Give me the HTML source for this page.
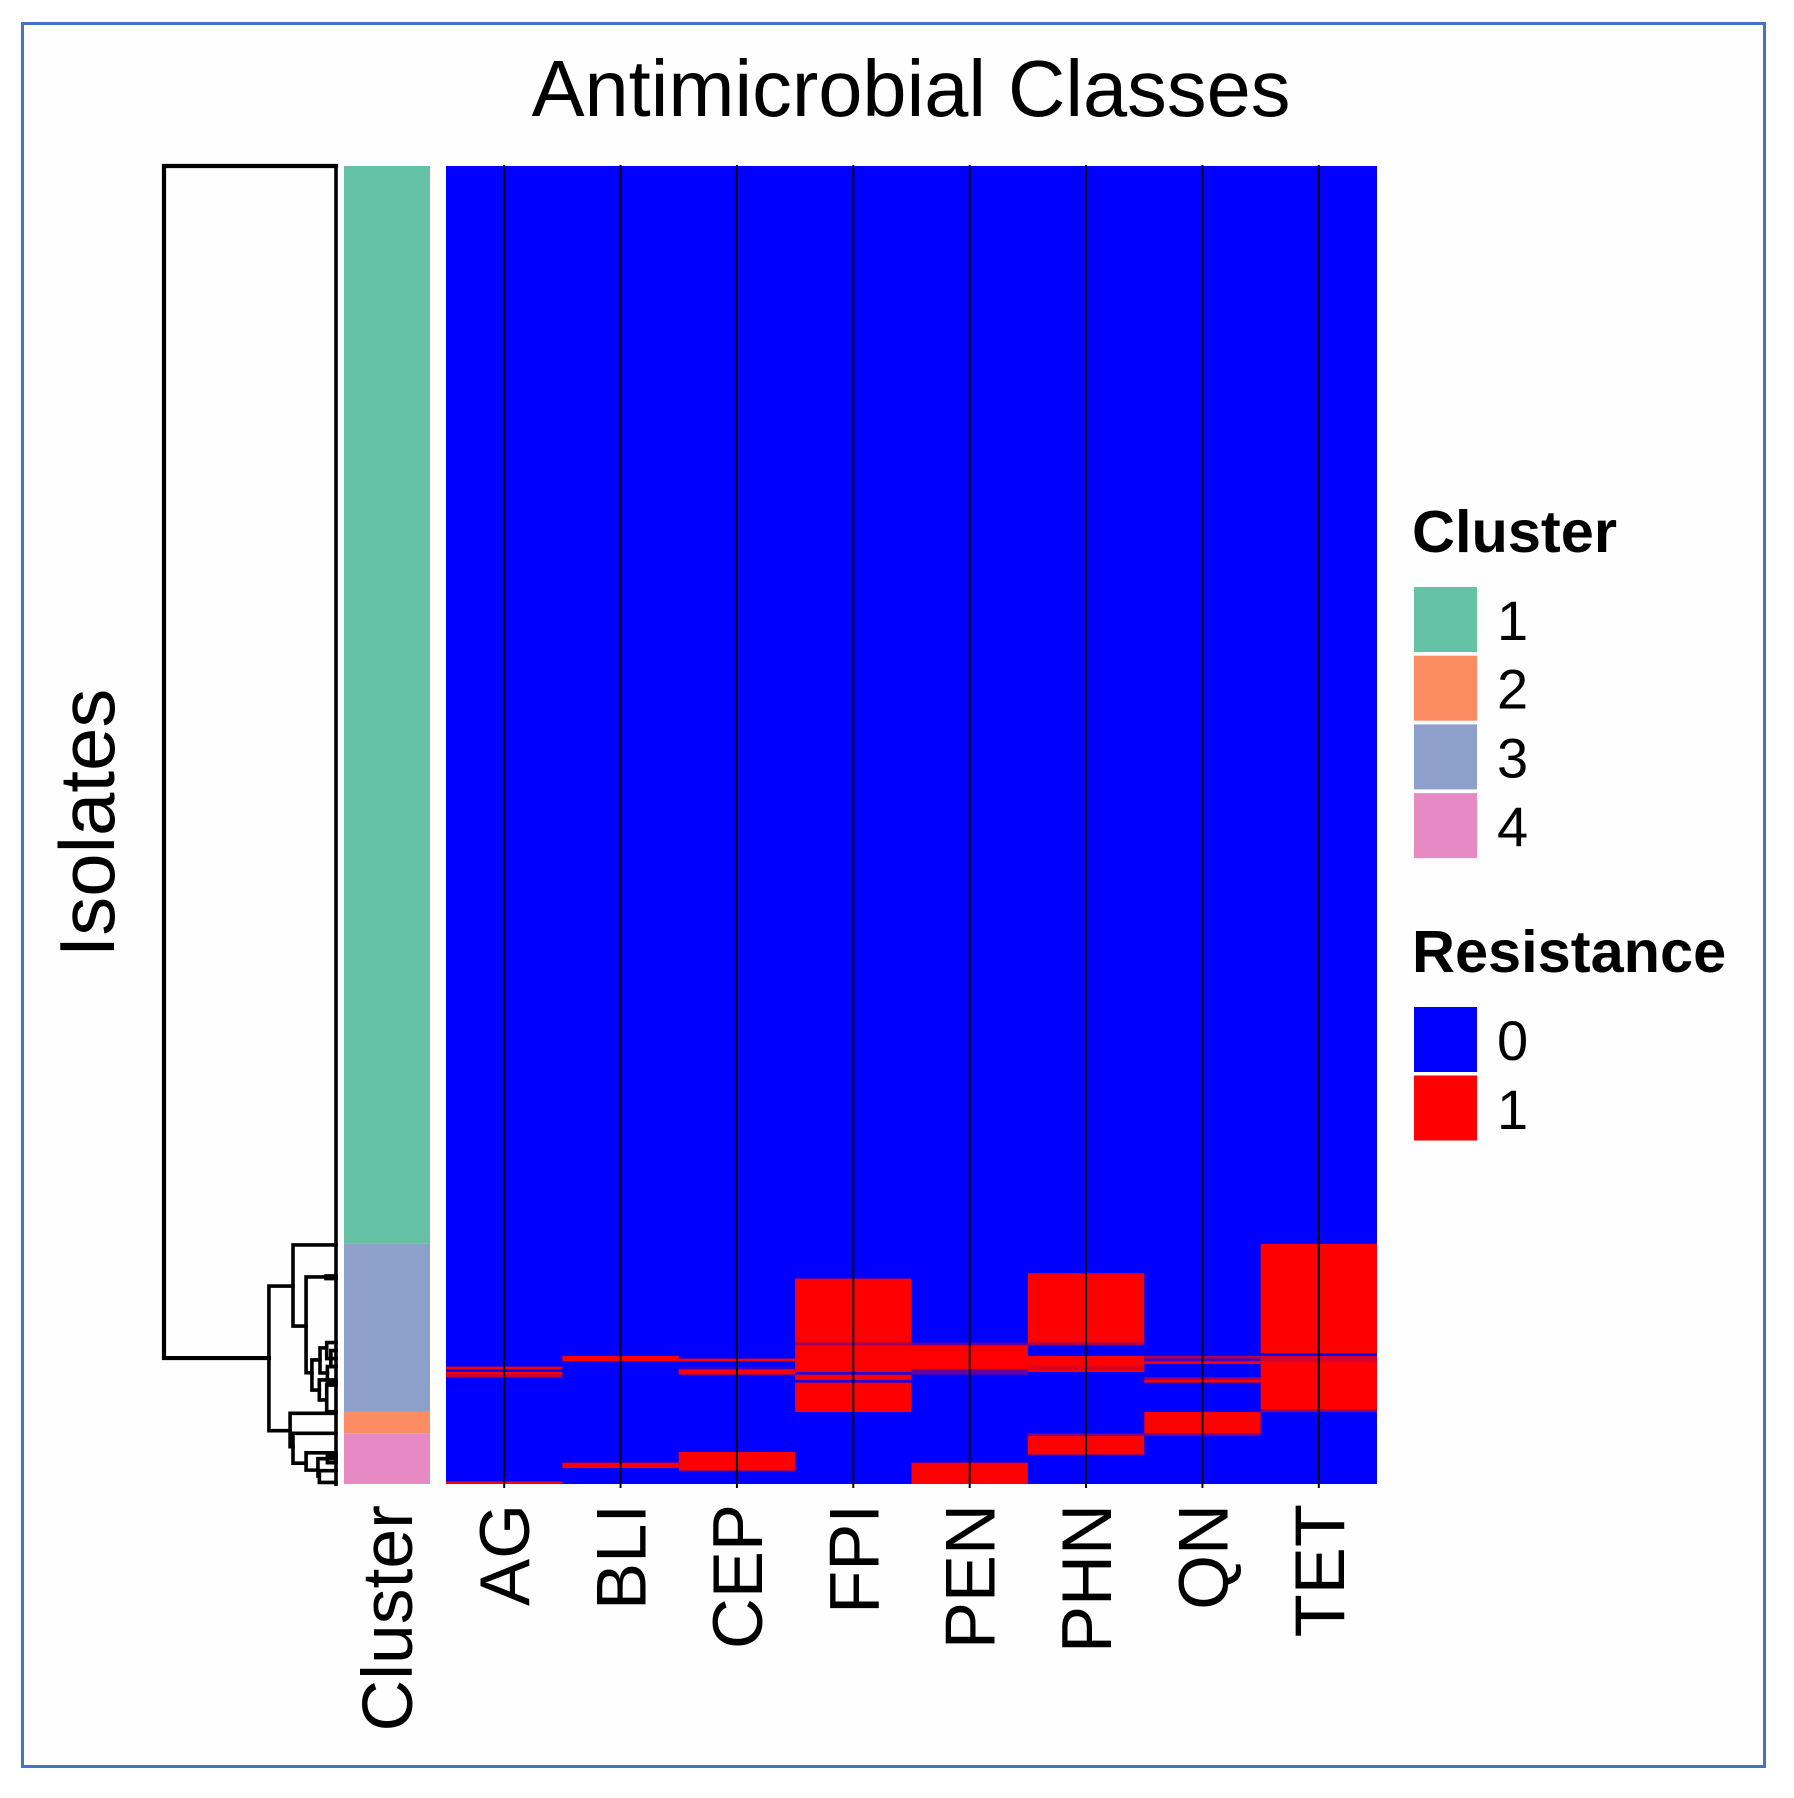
<!DOCTYPE html>
<html lang="en">
<head>
<meta charset="utf-8">
<title>Antimicrobial Classes heatmap</title>
<style>
html,body{margin:0;padding:0;background:#fff;width:1794px;height:1798px;overflow:hidden}
svg{display:block;font-family:"Liberation Sans",sans-serif}
</style>
</head>
<body>
<svg id="chart" xmlns="http://www.w3.org/2000/svg" width="1794" height="1798" viewBox="0 0 1794 1798">
  <rect x="0" y="0" width="1794" height="1798" fill="#ffffff"/>
  <rect x="22.5" y="23.5" width="1742" height="1743" fill="#fefefe" stroke="#4472c4" stroke-width="3"/>
  <text x="911" y="116" font-size="79.4" text-anchor="middle" fill="#000">Antimicrobial Classes</text>
  <text transform="translate(114,823) rotate(-90)" font-size="78" text-anchor="middle" fill="#000">Isolates</text>
  <text x="1412" y="552" font-size="59.5" font-weight="bold" fill="#000">Cluster</text>
  <text x="1412" y="972" font-size="59.5" font-weight="bold" fill="#000">Resistance</text>
</svg>
<script>
// Data
const totalRows = 494;
const classes = ['AG', 'BLI', 'CEP', 'FPI', 'PEN', 'PHN', 'QN', 'TET'];
// Per class: resistant row ranges [firstRow, endRow, shownValue]
const resistAG = [[450,451,1],[452,453,1],[453,454,0.8],[493,494,1]];
const resistBLI = [[446,448,1],[486,488,1]];
const resistCEP = [[447,448,1],[450,451,0.2],[451,453,1],[482,489,1]];
const resistFPI = [[417,441,1],[441,442,0.65],[442,452,1],[452,453,0.1],[453,455,1],[455,456,0.1],[456,467,1]];
const resistPEN = [[441,442,0.4],[442,451,1],[451,453,0.4],[486,494,1]];
const resistPHN = [[415,441,1],[441,442,0.65],[446,450,1],[450,451,0.85],[451,452,1],[475,476,0.5],[476,483,1]];
const resistQN = [[446,447,0.7],[447,448,0.25],[448,449,1],[454,455,0.6],[455,456,1],[467,475,1],[475,476,0.5]];
const resistTET = [[404,445,1],[446,448,0.85],[448,466,1],[466,467,0.6]];
const clusterOrder = [1, 3, 2, 4];
const clusterEndRows = [404, 467, 475, 494];
const clusterLabels = ['1', '2', '3', '4'];
const clusterColors = ['#66c2a5', '#fc8d62', '#8da0cb', '#e78ac3'];
const resistanceLabels = ['0', '1'];
const resistanceColors = ['#0000ff', '#ff0000'];
// Dendrogram merges: [height, topRow, bottomRow, topChildHeight, bottomChildHeight]
const merges = [
  [100,0,446.8,0,39],
  [39,419.8,474,25,26.7],
  [25,404.4,434.8,0,17.4],
  [17.4,416.4,452.3,0,14],
  [14,447.5,458.8,9.3,9.7],
  [9.3,443,452.4,5.4,5],
  [5.4,441,447,0,0],
  [5,450,456,0,0],
  [3,444,450,0,0],
  [9.7,455,462.5,0,5.4],
  [5.4,456.9,466.9,0,0],
  [5.8,416,417,0,0],
  [26.7,467.5,480,0,25],
  [25,475,486.2,0,17.4],
  [17.4,482.3,488.8,0,10.5],
  [10.5,484.5,491,0,9.7],
  [9.7,489,493.4,0,0],
  [5,483.5,486,0,0]
];

const resistSeries = [resistAG, resistBLI, resistCEP, resistFPI, resistPEN, resistPHN, resistQN, resistTET];

// Axis functions
const heatLeft = 446, heatRight = 1377, heatTop = 166, heatBottom = 1484;
const colWidth = (heatRight - heatLeft) / classes.length;
const yRow = r => heatTop + r * (heatBottom - heatTop) / totalRows;
const xCol = i => heatLeft + i * colWidth;
const xHeight = h => 336 - h * 1.72;
const mix = v => 'rgb(' + Math.round(255 * v) + ',0,' + Math.round(255 * (1 - v)) + ')';

const svg = document.getElementById('chart');
const NS = 'http://www.w3.org/2000/svg';
function make(tag, attrs, text) {
  const el = document.createElementNS(NS, tag);
  for (const k in attrs) el.setAttribute(k, attrs[k]);
  if (text !== undefined) el.textContent = text;
  svg.appendChild(el);
  return el;
}

// Heatmap background
const heatBg = make('rect', {x: heatLeft, y: heatTop, width: heatRight - heatLeft, height: heatBottom - heatTop, fill: resistanceColors[0]});



// Heatmap cells
resistSeries.forEach((ranges, i) => {
  ranges.forEach(range => {
    const cell = make('rect', {
      x: xCol(i), y: yRow(range[0]), width: colWidth,
      height: yRow(range[1]) - yRow(range[0]), fill: mix(range[2])
    });
    
    
  });
});

// Column lines and labels
classes.forEach((name, i) => {
  const cx = xCol(i) + colWidth / 2;
  const line = make('line', {x1: cx, x2: cx, y1: heatTop - 1, y2: heatBottom + 4, stroke: '#000014', 'stroke-width': 2});
  
  
  const label = make('text', {
    transform: 'translate(' + (cx + 25) + ',1504) rotate(-90)',
    'font-size': 70.6, 'text-anchor': 'end', fill: '#000'
  }, name);
  
  
});

// Cluster annotation bar
let clusterStart = 0;
clusterOrder.forEach((id, i) => {
  const seg = make('rect', {
    x: 344, y: yRow(clusterStart), width: 86,
    height: yRow(clusterEndRows[i]) - yRow(clusterStart), fill: clusterColors[id - 1]
  });
  
  
  clusterStart = clusterEndRows[i];
});
const clusterTick = make('text', {
  transform: 'translate(412,1505) rotate(-90)',
  'font-size': 71.5, 'text-anchor': 'end', fill: '#000'
}, 'Cluster');



// Dendrogram
merges.forEach((m, i) => {
  const x = xHeight(m[0]);
  const top = yRow(m[1]);
  const bottom = yRow(m[2]);
  const d = 'M' + xHeight(m[3]) + ' ' + top + 'H' + x + 'V' + bottom + 'H' + xHeight(m[4]);
  const branch = make('path', {d: d, fill: 'none', stroke: '#000', 'stroke-width': i === 0 ? 4.2 : 3.6, 'stroke-linecap': 'square'});
  
  
});
const leafLine = make('line', {x1: xHeight(0), x2: xHeight(0), y1: heatTop - 2, y2: heatBottom + 2, stroke: '#000', 'stroke-width': 3.6});



// Legends
clusterLabels.forEach((label, i) => {
  const sw = make('rect', {x: 1414, y: 587 + i * 68.7, width: 63, height: 65, fill: clusterColors[i]});
  
  
  const tx = make('text', {x: 1497, y: 640 + i * 68.7, 'font-size': 56, fill: '#000'}, label);
  
  
});
resistanceLabels.forEach((label, i) => {
  const sw = make('rect', {x: 1414, y: 1007 + i * 68.5, width: 63, height: 65, fill: resistanceColors[i]});
  
  
  const tx = make('text', {x: 1497, y: 1060 + i * 69, 'font-size': 56, fill: '#000'}, label);
  
  
});
</script>
</body>
</html>
